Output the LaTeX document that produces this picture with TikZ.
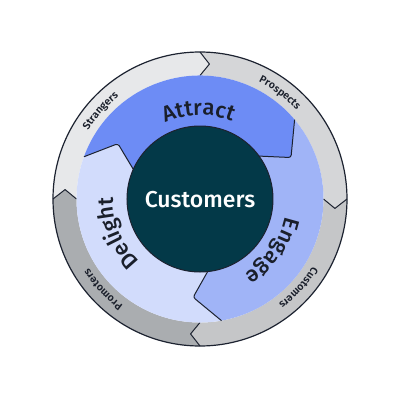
\documentclass[tikz,border=0pt]{standalone}
\usepackage{fontspec}
\setmainfont{Fira Sans}
\newfontfamily\medfont{Fira Sans Medium}
\newfontfamily\semifont{Fira Sans SemiBold}
\usetikzlibrary{decorations.text}
\definecolor{attractc}{HTML}{6D8CF5}
\definecolor{engagec}{HTML}{A0B4F7}
\definecolor{delightc}{HTML}{D2DCFC}
\definecolor{strangc}{HTML}{E7E8EA}
\definecolor{prospc}{HTML}{D5D6D8}
\definecolor{custc}{HTML}{C5C6C8}
\definecolor{promc}{HTML}{AAADB0}
\definecolor{centerc}{HTML}{033948}
\definecolor{edgec}{HTML}{1C2230}
\definecolor{txtc}{HTML}{1A1F2B}
\tikzset{
  edgeline/.style={draw=edgec, line width=1pt, line join=round},
  tipline/.style={draw=edgec, line width=1pt, rounded corners=2.5pt},
  arctext/.style={decorate, decoration={text along path, text align=center, text color=txtc}}
}
\newcommand{\bigtxt}{\medfont\fontsize{22}{24}\selectfont}
\newcommand{\smalltxt}{\semifont\fontsize{10.5}{12}\selectfont}
\begin{document}
\begin{tikzpicture}[x=1pt,y=1pt]
\useasboundingbox (-200,-201) rectangle (200,199);
% outer ring segments
\fill[strangc] (180:147) arc[start angle=180,end angle=90,radius=147] -- (86:135.25) -- (90:123.5) arc[start angle=90,end angle=180,radius=123.5] -- (176:135.25) -- cycle;
\fill[prospc] (90:147) arc[start angle=90,end angle=0,radius=147] -- (-4:135.25) -- (0:123.5) arc[start angle=0,end angle=90,radius=123.5] -- (86:135.25) -- cycle;
\fill[custc] (0:147) arc[start angle=0,end angle=-90,radius=147] -- (-94:135.25) -- (-90:123.5) arc[start angle=-90,end angle=0,radius=123.5] -- (-4:135.25) -- cycle;
\fill[promc] (270:147) arc[start angle=270,end angle=180,radius=147] -- (176:135.25) -- (180:123.5) arc[start angle=180,end angle=270,radius=123.5] -- (266:135.25) -- cycle;
\draw[edgeline, line width=1.2pt] (0,0) circle[radius=147];
\foreach \a in {90,0,-90,180}{
  \draw[edgeline] (\a:147) -- (\a-4:135.25) -- (\a:123.5);
}
% inner ring segments
\fill[attractc] (160:123.5) arc[start angle=160,end angle=40,radius=123.5] -- (24.5:100) -- (36:73) arc[start angle=36,end angle=156,radius=73] -- (146:99) -- cycle;
\fill[engagec] (40:123.5) arc[start angle=40,end angle=-80,radius=123.5] -- (-94:98.5) -- (-84:73) arc[start angle=-84,end angle=36,radius=73] -- (24.5:100) -- cycle;
\fill[delightc] (-80:123.5) arc[start angle=-80,end angle=-200,radius=123.5] -- (146:99) -- (156:73) arc[start angle=156,end angle=276,radius=73] -- (266:98.5) -- cycle;
\draw[tipline] (40:123.5) -- (24.5:100) -- (36:73);
\draw[tipline] (-80:123.5) -- (-94:98.5) -- (-84:73);
\draw[tipline] (160:123.5) -- (146:99) -- (156:73);
% center
\node[circle, fill=centerc, draw=edgec, line width=1pt, minimum size=146pt, inner sep=0pt] (hub) at (0,0) {};
\node[text=white, font=\medfont\fontsize{23}{25}\selectfont] (hubtext) at (0,-1) {Customers};
% inner labels
\path[arctext, decoration={text={|\bigtxt|Attract}}] (140:84) arc[start angle=140,end angle=42,radius=84];
\path[arctext, decoration={text={|\bigtxt|Engage}}] (15:87) arc[start angle=15,end angle=-86,radius=87];
\path[arctext, decoration={text={|\bigtxt|Delight}}] (252:87) arc[start angle=252,end angle=153,radius=87];
% outer labels
\path[arctext, decoration={text={|\smalltxt|Strangers}}] (172:131) arc[start angle=172,end angle=105,radius=131];
\path[arctext, decoration={text={|\smalltxt|Prospects}}] (86:131) arc[start angle=86,end angle=20,radius=131];
\path[arctext, decoration={text={|\smalltxt|Customers}}] (-9:131) arc[start angle=-9,end angle=-75,radius=131];
\path[arctext, decoration={text={|\smalltxt|Promoters}}] (256:131) arc[start angle=256,end angle=190,radius=131];
\end{tikzpicture}
\end{document}
